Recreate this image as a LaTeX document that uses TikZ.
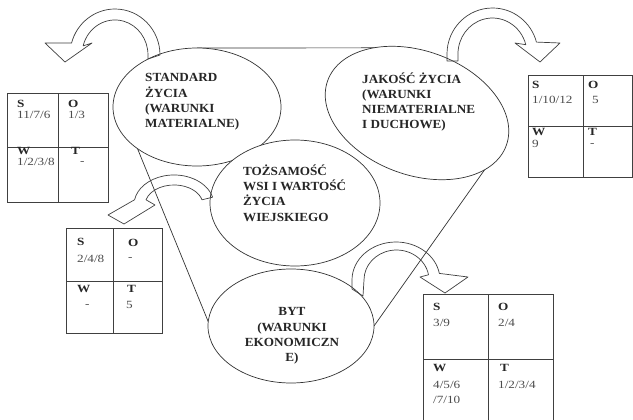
\documentclass[tikz,border=0pt]{standalone}
\usepackage{fontspec}
\setmainfont{Liberation Serif}
\newfontfamily\ellfont[FakeStretch=1.06]{Liberation Serif}
\newfontfamily\boxfont[FakeStretch=1.2]{Liberation Serif}
\usetikzlibrary{shapes.geometric}
\pgfdeclarelayer{background}
\pgfsetlayers{background,main}
\begin{document}
\begin{tikzpicture}[x=1pt,y=-1pt,
  ell/.style={ellipse, draw=black!80, line width=0.7pt, fill=white, inner sep=0pt, outer sep=0pt},
  tline/.style={draw=black!80, line width=0.7pt},
  curvarrow/.style={draw=black!75, line width=0.7pt, line join=round},
  etext/.style={font=\ellfont\bfseries\fontsize{12.4}{15.2}\selectfont, text=black!85, inner sep=0pt, align=left, anchor=west},
  cell/.style={draw=black!75, line width=0.8pt, inner sep=0pt, outer sep=0pt, anchor=north west},
  lab/.style={font=\boxfont\bfseries\fontsize{11}{13}\selectfont, text=black!85, inner sep=0pt, anchor=west},
  num/.style={font=\boxfont\fontsize{11}{13}\selectfont, text=black!70, inner sep=0pt, anchor=west}
]
\useasboundingbox (0,0) rectangle (633,420);
\clip (0,0) rectangle (633,420);

% ellipses
\node[ell, minimum width=168pt, minimum height=118pt] (std) at (197,107) {};
\node[ell, minimum width=190pt, minimum height=124pt, rotate=-20] (jak) at (417,113) {};
\node[ell, minimum width=170pt, minimum height=126pt] (toz) at (295,203) {};
\node[ell, minimum width=166pt, minimum height=114pt] (byt) at (291,326) {};

% triangle lines behind ellipses
\begin{pgfonlayer}{background}
  \fill[white] (0,0) rectangle (633,420);
  \draw[tline] (std.north) -- (jak.115);
  \draw[tline] (std.215) -- (byt.177);
  \draw[tline] (jak.340) -- (byt.0);
\end{pgfonlayer}

% ellipse texts
\node[etext] (stdt) at (145,102) {STANDARD\\ŻYCIA\\(WARUNKI\\MATERIALNE)};
\node[etext] (jakt) at (362,102) {JAKOŚĆ ŻYCIA\\(WARUNKI\\NIEMATERIALNE\\I DUCHOWE)};
\node[etext] (tozt) at (243,193) {TOŻSAMOŚĆ\\WSI I WARTOŚĆ\\ŻYCIA\\WIEJSKIEGO};
\node[etext, anchor=center, align=center] (bytt) at (292,336) {BYT\\(WARUNKI\\EKONOMICZN\\E)};

% SWOT box 1
\node[cell, minimum width=51pt, minimum height=54pt] (b1s) at (7,93) {};
\node[cell, minimum width=50pt, minimum height=54pt] (b1o) at (58,93) {};
\node[cell, minimum width=51pt, minimum height=55pt] (b1w) at (7,147) {};
\node[cell, minimum width=50pt, minimum height=55pt] (b1t) at (58,147) {};
\node[lab] (b1sl) at (17,104) {S};
\node[num] (b1sn) at (17,115) {11/7/6};
\node[lab] (b1ol) at (68,104) {O};
\node[num] (b1on) at (68,115) {1/3};
\node[lab] (b1wl) at (17,151) {W};
\node[num] (b1wn) at (17,162) {1/2/3/8};
\node[lab] (b1tl) at (71,151) {T};
\node[num] (b1tn) at (80,163) {-};

% SWOT box 2
\node[cell, minimum width=55pt, minimum height=51pt] (b2s) at (528,75) {};
\node[cell, minimum width=49pt, minimum height=51pt] (b2o) at (583,75) {};
\node[cell, minimum width=55pt, minimum height=51pt] (b2w) at (528,126) {};
\node[cell, minimum width=49pt, minimum height=51pt] (b2t) at (583,126) {};
\node[lab] (b2sl) at (532,85) {S};
\node[num] (b2sn) at (532,100) {1/10/12};
\node[lab] (b2ol) at (588,85) {O};
\node[num] (b2on) at (592,100) {5};
\node[lab] (b2wl) at (532,132) {W};
\node[num] (b2wn) at (532,144) {9};
\node[lab] (b2tl) at (588,132) {T};
\node[num] (b2tn) at (590,145) {-};

% SWOT box 3
\node[cell, minimum width=47pt, minimum height=53pt] (b3s) at (66,228) {};
\node[cell, minimum width=49pt, minimum height=53pt] (b3o) at (113,228) {};
\node[cell, minimum width=47pt, minimum height=52pt] (b3w) at (66,281) {};
\node[cell, minimum width=49pt, minimum height=52pt] (b3t) at (113,281) {};
\node[lab] (b3sl) at (77,242) {S};
\node[num] (b3sn) at (77,259) {2/4/8};
\node[lab] (b3ol) at (128,243) {O};
\node[num] (b3on) at (128,259) {-};
\node[lab] (b3wl) at (77,289) {W};
\node[num] (b3wn) at (85,306) {-};
\node[lab] (b3tl) at (127,289) {T};
\node[num] (b3tn) at (126,305) {5};

% SWOT box 4 (cut by the lower edge)
\node[cell, minimum width=65pt, minimum height=65pt] (b4s) at (423,294) {};
\node[cell, minimum width=65pt, minimum height=65pt] (b4o) at (488,294) {};
\node[cell, minimum width=65pt, minimum height=75pt] (b4w) at (423,359) {};
\node[cell, minimum width=65pt, minimum height=75pt] (b4t) at (488,359) {};
\node[lab] (b4sl) at (433,307) {S};
\node[num] (b4sn) at (433,323) {3/9};
\node[lab] (b4ol) at (498,307) {O};
\node[num] (b4on) at (498,323) {2/4};
\node[lab] (b4wl) at (433,368) {W};
\node[num] (b4wn) at (433,385) {4/5/6};
\node[num] (b4wn2) at (433,400) {/7/10};
\node[lab] (b4tl) at (500,368) {T};
\node[num] (b4tn) at (498,385) {1/2/3/4};

% curved block arrows
\draw[curvarrow] (160,55) arc[start angle=0, end angle=-165, x radius=45, y radius=46]
  -- (45,43) -- (65,62) -- (92,43) -- (83.1,45.9)
  arc[start angle=-165, end angle=0, x radius=33, y radius=35] -- (148,59) -- cycle;
\draw[curvarrow] (447,61) -- (447,54) arc[start angle=180, end angle=345, x radius=45.5, y radius=46]
  -- (560,43) -- (540,62) -- (515,43) -- (525.8,44.7)
  arc[start angle=345, end angle=180, x radius=34.5, y radius=36] -- (458,61) -- cycle;
\draw[curvarrow] (212.6,197.2) arc[start angle=-15, end angle=-170, x radius=40, y radius=30]
  -- (108,215) -- (124,224) -- (155,205) -- (146,199.8)
  arc[start angle=-165, end angle=-15, x radius=29, y radius=20] -- cycle;
\draw[curvarrow] (352,289) -- (352,280) arc[start angle=180, end angle=350, x radius=44, y radius=38]
  -- (468,277) -- (445,293) -- (420,277) -- (428.5,274.8)
  arc[start angle=350, end angle=180, x radius=32.5, y radius=30] -- (363,296) -- cycle;
\end{tikzpicture}
\end{document}
